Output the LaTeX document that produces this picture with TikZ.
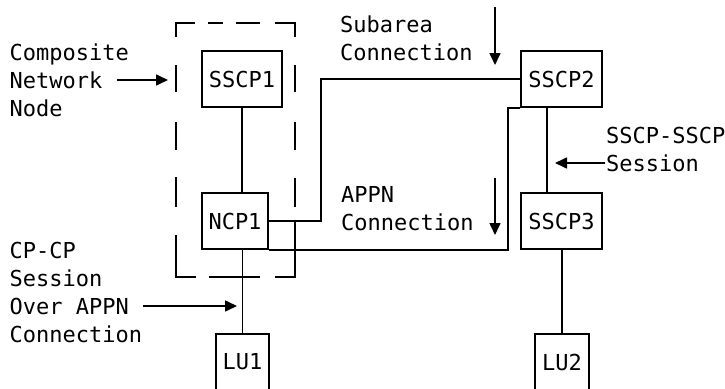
\documentclass[tikz,border=0pt]{standalone}
\usepackage{fontspec}
\setmonofont{DejaVu Sans Mono}
\usetikzlibrary{arrows.meta}
\begin{document}
\begin{tikzpicture}[x=1pt,y=-1pt,
  every node/.style={font=\ttfamily\fontsize{22}{28}\selectfont},
  box/.style={draw,line width=1.6pt,inner sep=0pt,minimum height=56pt},
  lbl/.style={anchor=north west,align=left,inner sep=0pt},
  conn/.style={line width=1.6pt},
  arr/.style={line width=1.6pt,-{Triangle[length=12pt,width=11pt]}},
  dashbox/.style={line width=1.6pt}
]
\useasboundingbox (0,0) rectangle (725,388);
\clip (0,0) rectangle (725,388);

% boxes
\node[box,minimum width=80pt] (sscp1) at (242,79) {SSCP1};
\node[box,minimum width=81pt] (sscp2) at (561.5,79) {SSCP2};
\node[box,minimum width=66pt] (ncp1) at (235,221) {NCP1};
\node[box,minimum width=81pt] (sscp3) at (561.5,221) {SSCP3};
\node[box,minimum width=53pt] (lu1) at (242.5,362) {LU1};
\node[box,minimum width=54pt] (lu2) at (562,362) {LU2};

% composite network node (dashed outline)
\draw[dashbox] (176,37)--(176,23)--(195,23);
\draw[dashbox] (208,23)--(223,23);
\draw[dashbox] (236,23)--(260,23);
\draw[dashbox] (275,23)--(295,23)--(295,37);
\draw[dashbox] (176,65)--(176,92);
\draw[dashbox] (176,122)--(176,150);
\draw[dashbox] (176,177)--(176,207);
\draw[dashbox] (176,235)--(176,277)--(196,277);
\draw[dashbox] (209,277)--(260,277);
\draw[dashbox] (275,277)--(295,277)--(295,222);
\draw[dashbox] (295,65)--(295,92);
\draw[dashbox] (295,122)--(295,150);
\draw[dashbox] (295,178)--(295,207);

% connectors
\draw[conn] (sscp1.south) -- (sscp1.south |- ncp1.north);
\draw[conn] (lu1.north) -- (lu1.north |- ncp1.south);
\coordinate (s23) at ([xshift=-14.5pt]sscp2.south);
\draw[conn] (s23) -- (s23 |- sscp3.north);
\draw[conn] (lu2.north) -- (lu2.north |- sscp3.south);
\coordinate (sa) at (321,150);
\draw[conn] (sscp2.west) -| (sa) |- (ncp1.east);
\coordinate (ap) at (508,180);
\draw[conn] (sscp2.south west) -| (ap) |- (ncp1.south east);

% labels
\node[lbl] (lcnn) at (9.5,43.8) {Composite\\Network\\Node};
\node[lbl] (lcp) at (9.5,241.8) {CP-CP\\Session\\Over APPN\\Connection};
\node[lbl] (lsub) at (340,15.3) {Subarea\\Connection};
\node[lbl] (lappn) at (341,186) {APPN\\Connection};
\node[lbl] (lss) at (606,127) {SSCP-SSCP\\Session};

% pointer arrows
\coordinate (a1s) at (117,80);  \coordinate (a1e) at (168,80);
\coordinate (a2s) at (143,306); \coordinate (a2e) at (237,306);
\coordinate (a3s) at (495,7);   \coordinate (a3e) at (495,65);
\coordinate (a4s) at (495,178); \coordinate (a4e) at (495,235);
\coordinate (a5s) at (605,163); \coordinate (a5e) at (555,163);
\draw[arr] (a1s) -- (a1e);
\draw[arr] (a2s) -- (a2e);
\draw[arr] (a3s) -- (a3e);
\draw[arr] (a4s) -- (a4e);
\draw[arr] (a5s) -- (a5e);
\end{tikzpicture}
\end{document}
